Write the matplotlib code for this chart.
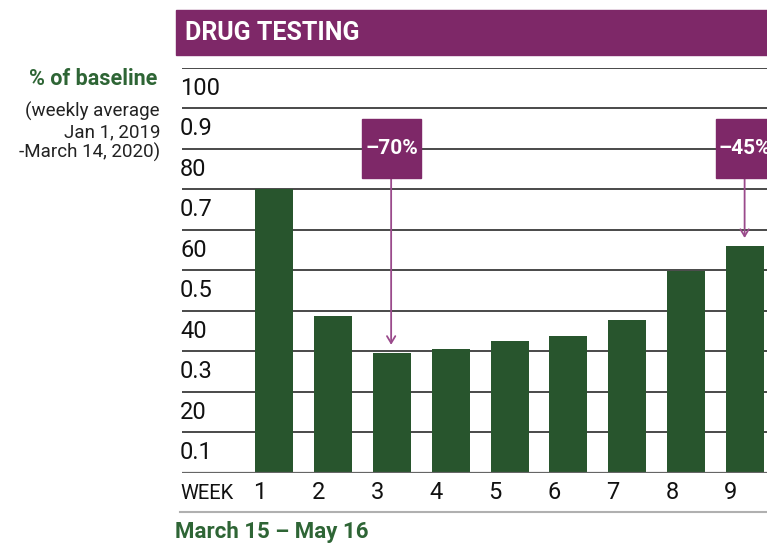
import matplotlib.pyplot as plt
from matplotlib.patches import Rectangle
from matplotlib.lines import Line2D
from matplotlib.transforms import offset_copy, blended_transform_factory

weeks = [1, 2, 3, 4, 5, 6, 7, 8, 9]
values = [70.2, 38.7, 29.6, 30.5, 32.5, 33.8, 37.7, 49.8, 56.0]
ytick_vals = [100, 90, 80, 70, 60, 50, 40, 30, 20, 10]
ytick_labels = ['100', '0.9', '80', '0.7', '60', '0.5', '40', '0.3', '20', '0.1']
callout_weeks = [3, 9]
callout_labels = ['\u201370%', '\u201345%']

purple = '#7E2868'
arrow_c = '#9A4A8B'
bar_green = '#28552D'
text_green = '#2E6535'

plt.rcParams['font.family'] = ['Roboto', 'DejaVu Sans']

W, H = 767, 543
fig = plt.figure(figsize=(W / 100, H / 100), dpi=100)
ax = fig.add_axes([182 / W, 1 - 472.7 / H, (W - 182) / W, (472.7 - 68) / H])
ax.set_xlim(-0.56, 9.37)
ax.set_ylim(0, 100)
for s in ax.spines.values():
    s.set_visible(False)
ax.set_xticks([])
ax.set_yticks([])
ax.patch.set_alpha(0)

# gridlines + odd labels sitting under each line
blend = blended_transform_factory(ax.transAxes, ax.transData)
for v, lab in zip(ytick_vals, ytick_labels):
    ax.axhline(v, color='#2a2a2a', lw=1.2, zorder=1)
    ax.text(0, v, lab, ha='left', va='baseline', fontsize=17, color='#111111',
            transform=offset_copy(blend, fig, x=-2, y=-27, units='dots'))
ax.axhline(0, color='#666666', lw=1.6, zorder=3)

bw = 0.645
ax.bar(weeks, values, width=bw, color=bar_green, zorder=2)

# week numbers, roughly left-aligned with each bar
for w in weeks:
    ax.text(w - bw / 2, 0, str(w), ha='left', va='baseline', fontsize=17, color='#111111',
            transform=offset_copy(ax.transData, fig, x=-2, y=-26.5, units='dots'))

# callout boxes with arrows
vals = dict(zip(weeks, values))
for w, lab in zip(callout_weeks, callout_labels):
    ax.add_patch(Rectangle((w - 0.5, 72.9), 1.0, 14.6, color=purple, zorder=5, clip_on=False))
    ax.text(w, 80.2, lab, ha='center', va='center', fontsize=15, fontweight='bold',
            color='white', zorder=6, clip_on=False)
    ax.annotate('', xy=(w - 0.01, vals[w] + 2.0), xytext=(w - 0.01, 72.9),
                arrowprops=dict(arrowstyle='->,head_length=0.5,head_width=0.3',
                                color=arrow_c, lw=1.3, shrinkA=0, shrinkB=0), zorder=4)

# title band
fig.add_artist(Rectangle((176 / W, 1 - 55 / H), 1 - 176 / W, 45 / H, color=purple,
                         transform=fig.transFigure, zorder=0))
fig.text(185 / W, 1 - 33.5 / H, 'DRUG TESTING', ha='left', va='center', fontsize=18,
         fontweight='bold', color='white')

# left side labels
fig.text(157 / W, 1 - 85 / H, '% of baseline', ha='right', va='baseline', fontsize=15.5,
         fontweight='bold', color=text_green)
for i, line in enumerate(['(weekly average', 'Jan 1, 2019', '-March 14, 2020)']):
    fig.text(160 / W, 1 - (117 + 20.5 * i) / H, line, ha='right', va='baseline',
             fontsize=13.5, color='#222222')

fig.text(180 / W, 1 - 499 / H, 'WEEK', ha='left', va='baseline', fontsize=14.5, color='#111111')
fig.add_artist(Line2D([180 / W, 1], [1 - 511.5 / H] * 2, transform=fig.transFigure,
                      color='#b0b0b0', lw=1.5))
fig.text(175 / W, 1 - 538 / H, 'March 15 \u2013 May 16', ha='left', va='baseline',
         fontsize=16, fontweight='bold', color=text_green)

fig.savefig('out.png', dpi=100)
